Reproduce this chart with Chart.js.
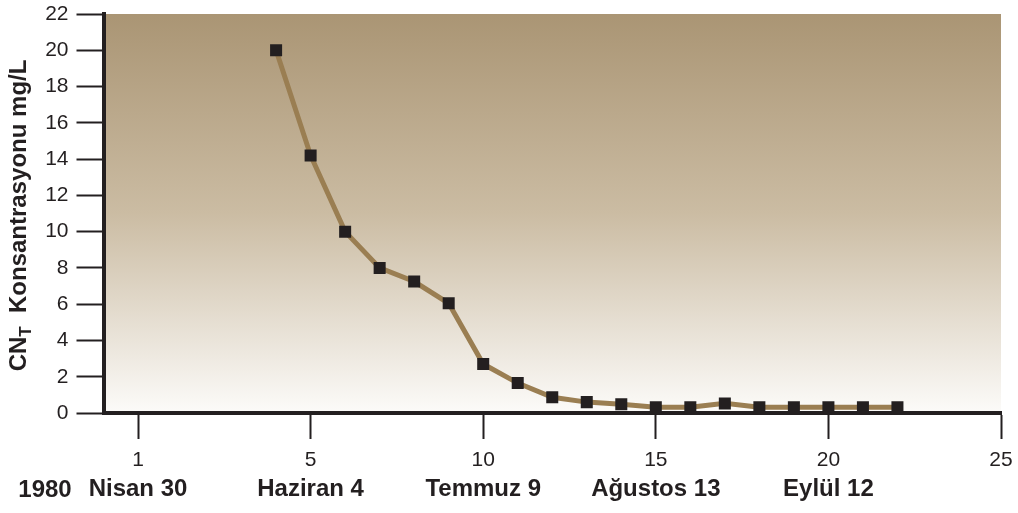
<!DOCTYPE html>
<html lang="tr">
<head>
<meta charset="utf-8">
<title>CNT Konsantrasyonu</title>
<script src="https://cdn.jsdelivr.net/npm/chart.js@4/dist/chart.umd.min.js"></script>
<style>
  html, body { margin: 0; padding: 0; background: #ffffff; }
  #wrap { width: 1018px; height: 513px; }
</style>
</head>
<body>
<div id="wrap"><canvas id="grafik" width="1018" height="513"></canvas></div>
<script>
// --- veriler ---
const gunler = [4, 5, 6, 7, 8, 9, 10, 11, 12, 13, 14, 15, 16, 17, 18, 19, 20, 21, 22];
const konsantrasyon = [20, 14.2, 10, 8, 7.25, 6.05, 2.7, 1.65, 0.87, 0.6, 0.48, 0.32, 0.32, 0.53, 0.32, 0.32, 0.32, 0.32, 0.32];

const xTikDegerleri = [0, 5, 10, 15, 20, 25];
const xTikEtiketleri = ["1", "5", "10", "15", "20", "25"];
const tarihEtiketleri = ["Nisan 30", "Haziran 4", "Temmuz 9", "Ağustos 13", "Eylül 12", ""];
const yilEtiketi = "1980";
const yEksenBasligi = ["CN", "T", "  Konsantrasyonu mg/L"];

const YAZI = "'Liberation Sans', Arial, Helvetica, sans-serif";
const KOYU = "#231f20";

// arka plan: kahverengi -> beyaz geçiş
const arkaPlan = {
  id: "arkaPlan",
  beforeDraw(chart) {
    const { ctx, chartArea: a } = chart;
    const g = ctx.createLinearGradient(0, a.top, 0, a.bottom);
    g.addColorStop(0, "#aa9574");
    g.addColorStop(0.5, "#cbbca3");
    g.addColorStop(1, "#fcfbf9");
    ctx.save();
    ctx.fillStyle = g;
    ctx.fillRect(a.left, a.top, a.right - a.left, a.bottom - a.top);
    ctx.restore();
  }
};

// y ekseni başlığı (alt simgeli T) ve yıl etiketi
const ekYazilar = {
  id: "ekYazilar",
  afterDraw(chart) {
    const { ctx, chartArea: a } = chart;
    const buyuk = "bold 24px " + YAZI;
    const kucuk = "bold 17px " + YAZI;
    ctx.save();
    ctx.fillStyle = KOYU;
    ctx.font = buyuk;
    const w1 = ctx.measureText(yEksenBasligi[0]).width;
    const w3 = ctx.measureText(yEksenBasligi[2]).width;
    ctx.font = kucuk;
    const w2 = ctx.measureText(yEksenBasligi[1]).width;
    const toplam = w1 + w2 + w3;
    ctx.translate(19, (a.top + a.bottom) / 2 + 2);
    ctx.rotate(-Math.PI / 2);
    ctx.textBaseline = "middle";
    ctx.textAlign = "left";
    let x = -toplam / 2;
    ctx.font = buyuk;
    ctx.fillText(yEksenBasligi[0], x, 0);
    x += w1;
    ctx.font = kucuk;
    ctx.fillText(yEksenBasligi[1], x, 7);
    x += w2;
    ctx.font = buyuk;
    ctx.fillText(yEksenBasligi[2], x, 0);
    ctx.restore();

    ctx.save();
    ctx.fillStyle = KOYU;
    ctx.font = "bold 24px " + YAZI;
    ctx.textAlign = "center";
    ctx.textBaseline = "middle";
    ctx.fillText(yilEtiketi, 45, 490);
    ctx.restore();
  }
};

function sabitTikler(scale) {
  scale.ticks = xTikDegerleri.map((v) => ({ value: v }));
}

// eksenlerin kendi kenar boşluklarını sıfırla, alanı layout.padding belirlesin
function yatayBoslukSifirla(scale) {
  scale.paddingLeft = 0;
  scale.paddingRight = 0;
}

const ctx = document.getElementById("grafik").getContext("2d");
new Chart(ctx, {
  type: "line",
  data: {
    datasets: [
      {
        data: gunler.map((g, i) => ({ x: g, y: konsantrasyon[i] })),
        borderColor: "#9a7e52",
        borderWidth: 5,
        pointStyle: "rect",
        pointRadius: 8.5,
        pointBackgroundColor: KOYU,
        pointBorderWidth: 0,
        tension: 0,
        fill: false
      }
    ]
  },
  options: {
    responsive: false,
    animation: false,
    devicePixelRatio: 1,
    layout: { padding: { top: 14, right: 17, left: 0, bottom: 0 } },
    plugins: {
      legend: { display: false },
      tooltip: { enabled: false }
    },
    scales: {
      x: {
        type: "linear",
        position: "bottom",
        min: -1,
        max: 25,
        afterBuildTicks: sabitTikler,
        afterFit(scale) {
          scale.height = 60;
          yatayBoslukSifirla(scale);
        },
        grid: {
          drawOnChartArea: false,
          drawTicks: true,
          tickLength: 26,
          tickWidth: 2,
          tickColor: KOYU
        },
        border: { display: true, color: KOYU, width: 4 },
        ticks: {
          autoSkip: false,
          maxRotation: 0,
          padding: 9,
          color: KOYU,
          font: { family: YAZI, size: 21 },
          callback: (v, i) => xTikEtiketleri[i]
        }
      },
      x2: {
        type: "linear",
        position: "bottom",
        min: -1,
        max: 25,
        afterBuildTicks: sabitTikler,
        afterFit(scale) {
          scale.height = 40;
          yatayBoslukSifirla(scale);
        },
        grid: { display: false, drawTicks: false },
        border: { display: false },
        ticks: {
          autoSkip: false,
          maxRotation: 0,
          padding: 2,
          color: KOYU,
          font: { family: YAZI, size: 24, weight: "bold" },
          callback: (v, i) => tarihEtiketleri[i]
        }
      },
      y: {
        min: 0,
        max: 22,
        afterFit(scale) {
          scale.width = 103.5;
          scale.paddingTop = 0;
          scale.paddingBottom = 0;
        },
        grid: {
          drawOnChartArea: false,
          drawTicks: true,
          tickLength: 27,
          tickWidth: 2,
          tickColor: KOYU
        },
        border: { display: true, color: KOYU, width: 4 },
        ticks: {
          stepSize: 2,
          padding: 8,
          color: KOYU,
          font: { family: YAZI, size: 21 }
        }
      }
    }
  },
  plugins: [arkaPlan, ekYazilar]
});
</script>
</body>
</html>
